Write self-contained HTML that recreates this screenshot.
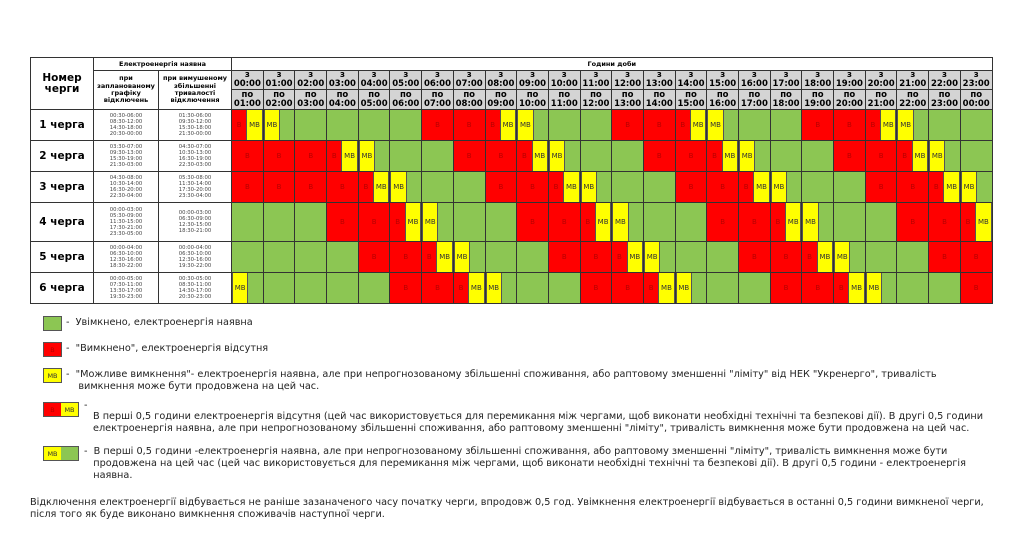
<!DOCTYPE html>
<html><head><meta charset="utf-8"><style>
body{margin:0;width:1024px;height:552px;background:#fff;font-family:"DejaVu Sans","Liberation Sans",sans-serif;position:relative;overflow:hidden}
table{position:absolute;left:30px;top:57px;border-collapse:collapse;table-layout:fixed;width:961px}
td{border:1px solid #333;padding:0;text-align:center;vertical-align:middle;overflow:hidden;line-height:1}
.hd{font-weight:bold;font-size:6.5px}
.hh td.t{background:#d4d4d4;font-weight:bold;font-size:8.5px;line-height:1.05}
.nm{font-weight:bold;font-size:10.5px}
.tm{font-size:5.3px;color:#444;line-height:1.15}
.g{background:#8cc653}
.r{background:#f00;color:#b80000;font-size:7px}
.s{display:flex;height:100%}
.s b,.s u,.s i{flex:1;display:flex;align-items:center;justify-content:center;text-decoration:none;font-weight:normal;font-style:normal;font-size:7px}
.s b{background:#f00;color:#b80000}
.s u{background:#ff0;color:#333;border-left:1px solid #555;border-right:1px solid #555}
.s i{background:#8cc653}
.d td{height:30px}
.d td .s{height:30px}
.d4 td,.d4 td .s{height:38px}
.sw{position:absolute;height:13px;border:1px solid #555;display:flex;font-size:6.5px}
.sw span{flex:1;display:flex;align-items:center;justify-content:center}
.lt{position:absolute;font-size:9.7px;color:#222;line-height:12px;white-space:nowrap}
</style></head><body>
<table>
<colgroup><col style="width:63px"><col style="width:65px"><col style="width:73px"><col span="24" style="width:31.7px"></colgroup>
<tr style="height:13px"><td rowspan="3" class="nm">Номер<br>черги</td><td colspan="2" class="hd">Електроенергія наявна</td><td colspan="24" class="hd">Години доби</td></tr>
<tr class="hh" style="height:19px"><td rowspan="2" class="hd" style="line-height:1.15">при запланованому графіку відключень</td><td rowspan="2" class="hd" style="line-height:1.15">при вимушеному збільшенні тривалості відключення</td>
<td class="t">з<br>00:00</td><td class="t">з<br>01:00</td><td class="t">з<br>02:00</td><td class="t">з<br>03:00</td><td class="t">з<br>04:00</td><td class="t">з<br>05:00</td><td class="t">з<br>06:00</td><td class="t">з<br>07:00</td><td class="t">з<br>08:00</td><td class="t">з<br>09:00</td><td class="t">з<br>10:00</td><td class="t">з<br>11:00</td><td class="t">з<br>12:00</td><td class="t">з<br>13:00</td><td class="t">з<br>14:00</td><td class="t">з<br>15:00</td><td class="t">з<br>16:00</td><td class="t">з<br>17:00</td><td class="t">з<br>18:00</td><td class="t">з<br>19:00</td><td class="t">з<br>20:00</td><td class="t">з<br>21:00</td><td class="t">з<br>22:00</td><td class="t">з<br>23:00</td></tr>
<tr class="hh" style="height:20px"><td class="t">по<br>01:00</td><td class="t">по<br>02:00</td><td class="t">по<br>03:00</td><td class="t">по<br>04:00</td><td class="t">по<br>05:00</td><td class="t">по<br>06:00</td><td class="t">по<br>07:00</td><td class="t">по<br>08:00</td><td class="t">по<br>09:00</td><td class="t">по<br>10:00</td><td class="t">по<br>11:00</td><td class="t">по<br>12:00</td><td class="t">по<br>13:00</td><td class="t">по<br>14:00</td><td class="t">по<br>15:00</td><td class="t">по<br>16:00</td><td class="t">по<br>17:00</td><td class="t">по<br>18:00</td><td class="t">по<br>19:00</td><td class="t">по<br>20:00</td><td class="t">по<br>21:00</td><td class="t">по<br>22:00</td><td class="t">по<br>23:00</td><td class="t">по<br>00:00</td></tr>

<tr class="d"><td class="nm">1 черга</td><td class="tm">00:30-06:00<br>08:30-12:00<br>14:30-18:00<br>20:30-00:00</td><td class="tm">01:30-06:00<br>09:30-12:00<br>15:30-18:00<br>21:30-00:00</td>
<td><div class="s"><b>В</b><u>МВ</u></div></td><td><div class="s"><u>МВ</u><i></i></div></td><td class="g"></td><td class="g"></td><td class="g"></td><td class="g"></td><td class="r">В</td><td class="r">В</td><td><div class="s"><b>В</b><u>МВ</u></div></td><td><div class="s"><u>МВ</u><i></i></div></td><td class="g"></td><td class="g"></td><td class="r">В</td><td class="r">В</td><td><div class="s"><b>В</b><u>МВ</u></div></td><td><div class="s"><u>МВ</u><i></i></div></td><td class="g"></td><td class="g"></td><td class="r">В</td><td class="r">В</td><td><div class="s"><b>В</b><u>МВ</u></div></td><td><div class="s"><u>МВ</u><i></i></div></td><td class="g"></td><td class="g"></td></tr>

<tr class="d"><td class="nm">2 черга</td><td class="tm">03:30-07:00<br>09:30-13:00<br>15:30-19:00<br>21:30-03:00</td><td class="tm">04:30-07:00<br>10:30-13:00<br>16:30-19:00<br>22:30-03:00</td>
<td class="r">В</td><td class="r">В</td><td class="r">В</td><td><div class="s"><b>В</b><u>МВ</u></div></td><td><div class="s"><u>МВ</u><i></i></div></td><td class="g"></td><td class="g"></td><td class="r">В</td><td class="r">В</td><td><div class="s"><b>В</b><u>МВ</u></div></td><td><div class="s"><u>МВ</u><i></i></div></td><td class="g"></td><td class="g"></td><td class="r">В</td><td class="r">В</td><td><div class="s"><b>В</b><u>МВ</u></div></td><td><div class="s"><u>МВ</u><i></i></div></td><td class="g"></td><td class="g"></td><td class="r">В</td><td class="r">В</td><td><div class="s"><b>В</b><u>МВ</u></div></td><td><div class="s"><u>МВ</u><i></i></div></td><td class="g"></td></tr>

<tr class="d"><td class="nm">3 черга</td><td class="tm">04:30-08:00<br>10:30-14:00<br>16:30-20:00<br>22:30-04:00</td><td class="tm">05:30-08:00<br>11:30-14:00<br>17:30-20:00<br>23:30-04:00</td>
<td class="r">В</td><td class="r">В</td><td class="r">В</td><td class="r">В</td><td><div class="s"><b>В</b><u>МВ</u></div></td><td><div class="s"><u>МВ</u><i></i></div></td><td class="g"></td><td class="g"></td><td class="r">В</td><td class="r">В</td><td><div class="s"><b>В</b><u>МВ</u></div></td><td><div class="s"><u>МВ</u><i></i></div></td><td class="g"></td><td class="g"></td><td class="r">В</td><td class="r">В</td><td><div class="s"><b>В</b><u>МВ</u></div></td><td><div class="s"><u>МВ</u><i></i></div></td><td class="g"></td><td class="g"></td><td class="r">В</td><td class="r">В</td><td><div class="s"><b>В</b><u>МВ</u></div></td><td><div class="s"><u>МВ</u><i></i></div></td></tr>

<tr class="d d4"><td class="nm">4 черга</td><td class="tm">00:00-03:00<br>05:30-09:00<br>11:30-15:00<br>17:30-21:00<br>23:30-05:00</td><td class="tm">00:00-03:00<br>06:30-09:00<br>12:30-15:00<br>18:30-21:00</td>
<td class="g"></td><td class="g"></td><td class="g"></td><td class="r">В</td><td class="r">В</td><td><div class="s"><b>В</b><u>МВ</u></div></td><td><div class="s"><u>МВ</u><i></i></div></td><td class="g"></td><td class="g"></td><td class="r">В</td><td class="r">В</td><td><div class="s"><b>В</b><u>МВ</u></div></td><td><div class="s"><u>МВ</u><i></i></div></td><td class="g"></td><td class="g"></td><td class="r">В</td><td class="r">В</td><td><div class="s"><b>В</b><u>МВ</u></div></td><td><div class="s"><u>МВ</u><i></i></div></td><td class="g"></td><td class="g"></td><td class="r">В</td><td class="r">В</td><td><div class="s"><b>В</b><u>МВ</u></div></td></tr>

<tr class="d"><td class="nm">5 черга</td><td class="tm">00:00-04:00<br>06:30-10:00<br>12:30-16:00<br>18:30-22:00</td><td class="tm">00:00-04:00<br>06:30-10:00<br>12:30-16:00<br>19:30-22:00</td>
<td class="g"></td><td class="g"></td><td class="g"></td><td class="g"></td><td class="r">В</td><td class="r">В</td><td><div class="s"><b>В</b><u>МВ</u></div></td><td><div class="s"><u>МВ</u><i></i></div></td><td class="g"></td><td class="g"></td><td class="r">В</td><td class="r">В</td><td><div class="s"><b>В</b><u>МВ</u></div></td><td><div class="s"><u>МВ</u><i></i></div></td><td class="g"></td><td class="g"></td><td class="r">В</td><td class="r">В</td><td><div class="s"><b>В</b><u>МВ</u></div></td><td><div class="s"><u>МВ</u><i></i></div></td><td class="g"></td><td class="g"></td><td class="r">В</td><td class="r">В</td></tr>

<tr class="d"><td class="nm">6 черга</td><td class="tm">00:00-05:00<br>07:30-11:00<br>13:30-17:00<br>19:30-23:00</td><td class="tm">00:30-05:00<br>08:30-11:00<br>14:30-17:00<br>20:30-23:00</td>
<td><div class="s"><u>МВ</u><i></i></div></td><td class="g"></td><td class="g"></td><td class="g"></td><td class="g"></td><td class="r">В</td><td class="r">В</td><td><div class="s"><b>В</b><u>МВ</u></div></td><td><div class="s"><u>МВ</u><i></i></div></td><td class="g"></td><td class="g"></td><td class="r">В</td><td class="r">В</td><td><div class="s"><b>В</b><u>МВ</u></div></td><td><div class="s"><u>МВ</u><i></i></div></td><td class="g"></td><td class="g"></td><td class="r">В</td><td class="r">В</td><td><div class="s"><b>В</b><u>МВ</u></div></td><td><div class="s"><u>МВ</u><i></i></div></td><td class="g"></td><td class="g"></td><td class="r">В</td></tr>
</table>

<div class="sw" style="left:43px;top:316px;width:17px;background:#8cc653"></div>
<div class="lt" style="left:66px;top:317px">-&nbsp; Увімкнено, електроенергія наявна</div>
<div class="sw" style="left:43px;top:342px;width:17px;background:#f00;color:#b80000"><span>В</span></div>
<div class="lt" style="left:66px;top:343px">-&nbsp; "Вимкнено", електроенергія відсутня</div>
<div class="sw" style="left:43px;top:368px;width:17px;background:#ff0;color:#333"><span>МВ</span></div>
<div class="lt" style="left:66px;top:369px">-&nbsp; "Можливе вимкнення"- електроенергія наявна, але при непрогнозованому збільшенні споживання, або раптовому зменшенні "ліміту" від НЕК "Укренерго", тривалість<br>&nbsp;&nbsp;&nbsp;&nbsp;вимкнення може бути продовжена на цей час.</div>
<div class="sw" style="left:43px;top:402px;width:34px"><span style="background:#f00;color:#b80000">В</span><span style="background:#ff0;color:#333">МВ</span></div>
<div class="lt" style="left:84px;top:400px">-</div>
<div class="lt" style="left:93px;top:411px">В перші 0,5 години електроенергія відсутня (цей час використовується для перемикання між чергами, щоб виконати необхідні технічні та безпекові дії). В другі 0,5 години<br>електроенергія наявна, але при непрогнозованому збільшенні споживання, або раптовому зменшенні "ліміту", тривалість вимкнення може бути продовжена на цей час.</div>
<div class="sw" style="left:43px;top:446px;width:34px"><span style="background:#ff0;color:#333">МВ</span><span style="background:#8cc653"></span></div>
<div class="lt" style="left:84px;top:446px">-&nbsp; В перші 0,5 години -електроенергія наявна, але при непрогнозованому збільшенні споживання, або раптовому зменшенні "ліміту", тривалість вимкнення може бути<br>&nbsp;&nbsp;&nbsp;продовжена на цей час (цей час використовується для перемикання між чергами, щоб виконати необхідні технічні та безпекові дії). В другі 0,5 години - електроенергія<br>&nbsp;&nbsp;&nbsp;наявна.</div>
<div class="lt" style="left:30px;top:497px">Відключення електроенергії відбувається не раніше зазаначеного часу початку черги, впродовж 0,5 год. Увімкнення електроенергії відбувається в останні 0,5 години вимкненої черги,<br>після того як буде виконано вимкнення споживачів наступної черги.</div>
</body></html>
